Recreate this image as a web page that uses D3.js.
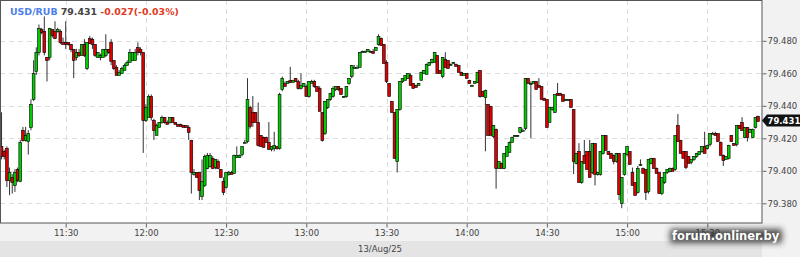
<!DOCTYPE html>
<html><head><meta charset="utf-8">
<script src="https://cdn.jsdelivr.net/npm/d3@7"></script>
<style>body{margin:0;background:#f2f2f2;overflow:hidden} svg{display:block}</style>
</head><body>
<svg id="c" width="800" height="257"></svg>
<script>
const symbol = "USD/RUB", lastPrice = "79.431", change = "-0.027(-0.03%)";
const dateLabel = "13/Aug/25";
const watermark = "forum.onliner.by";
const startTime = "2025-08-13T11:06:00";
const yTicks = [79.38, 79.40, 79.42, 79.44, 79.46, 79.48];
const xTicks = ["11:30", "12:00", "12:30", "13:00", "13:30", "14:00", "14:30", "15:00", "15:30"];

const opens = [
79.415,79.412,79.414,79.394,79.396,79.391,79.401,79.394,79.425,79.419,
79.418,79.427,79.444,79.461,79.473,79.487,79.486,79.470,79.470,79.487,
79.486,79.486,79.486,79.479,79.479,79.479,79.478,79.475,79.470,79.473,
79.471,79.478,79.463,79.482,79.481,79.478,79.470,79.470,79.470,79.471,
79.475,79.479,79.468,79.464,79.459,79.460,79.462,79.465,79.467,79.468,
79.468,79.476,79.475,79.473,79.431,79.433,79.446,79.431,79.422,79.427,
79.430,79.433,79.430,79.430,79.433,79.430,79.429,79.429,79.428,79.428,
79.427,79.419,79.398,79.399,79.399,79.385,79.391,79.402,79.403,79.408,
79.402,79.406,79.401,79.394,79.390,79.398,79.399,79.399,79.409,79.409,
79.410,79.418,79.418,79.439,79.436,79.436,79.430,79.422,79.421,79.421,
79.418,79.413,79.414,79.415,79.414,79.450,79.454,79.454,79.456,79.455,
79.457,79.455,79.451,79.452,79.452,79.446,79.454,79.455,79.452,79.451,
79.436,79.423,79.439,79.444,79.446,79.450,79.452,79.451,79.446,79.446,
79.454,79.458,79.464,79.464,79.464,79.474,79.474,79.474,79.474,79.474,
79.474,79.478,79.482,79.478,79.467,79.454,79.443,79.436,79.406,79.438,
79.455,79.456,79.457,79.459,79.454,79.453,79.453,79.456,79.460,79.460,
79.465,79.467,79.467,79.471,79.462,79.458,79.469,79.468,79.466,79.467,
79.466,79.465,79.461,79.459,79.460,79.456,79.453,79.454,79.455,79.462,
79.449,79.446,79.441,79.440,79.421,79.426,79.402,79.405,79.402,79.409,
79.412,79.418,79.422,79.422,79.424,79.425,79.426,79.457,79.454,79.454,
79.455,79.453,79.452,79.445,79.444,79.430,79.438,79.436,79.448,79.448,
79.447,79.444,79.444,79.444,79.438,79.405,79.412,79.393,79.410,79.412,
79.412,79.399,79.417,79.398,79.398,79.411,79.422,79.412,79.411,79.410,
79.406,79.411,79.380,79.398,79.410,79.412,79.399,79.393,79.387,79.404,
79.402,79.401,79.387,79.405,79.408,79.402,79.399,79.386,79.393,
79.399,79.400,79.402,79.401,79.428,79.419,79.412,79.412,79.409,79.405,
79.407,79.409,79.410,79.412,79.415,79.414,79.416,79.423,79.423,
79.423,79.418,79.410,79.407,79.408,79.422,79.417,79.416,79.428,79.430,
79.421,79.427,79.424,79.421,79.427,79.434];
const highs = [
79.436,79.413,79.415,79.402,79.398,79.401,79.402,79.419,79.427,79.427,
79.425,79.444,79.468,79.476,79.490,79.488,79.495,79.470,79.488,79.487,
79.492,79.488,79.487,79.482,79.492,79.479,79.478,79.475,79.475,79.475,
79.478,79.481,79.479,79.483,79.482,79.478,79.473,79.472,79.475,79.484,
79.475,79.481,79.468,79.465,79.462,79.464,79.466,79.468,79.475,79.473,
79.475,79.479,79.476,79.473,79.441,79.447,79.447,79.432,79.429,79.430,
79.434,79.433,79.431,79.433,79.433,79.430,79.429,79.429,79.428,79.428,
79.428,79.419,79.401,79.399,79.399,79.407,79.410,79.411,79.411,79.409,
79.407,79.407,79.401,79.396,79.399,79.400,79.400,79.410,79.415,79.410,
79.415,79.419,79.457,79.440,79.446,79.436,79.442,79.422,79.421,79.421,
79.430,79.415,79.424,79.415,79.448,79.458,79.455,79.455,79.464,79.456,
79.457,79.456,79.460,79.454,79.453,79.455,79.456,79.456,79.452,79.452,
79.436,79.443,79.444,79.448,79.452,79.452,79.452,79.451,79.446,79.452,
79.457,79.465,79.465,79.465,79.473,79.474,79.474,79.475,79.474,79.475,
79.476,79.484,79.482,79.478,79.468,79.454,79.443,79.436,79.438,79.455,
79.457,79.459,79.460,79.460,79.454,79.453,79.454,79.461,79.462,79.466,
79.467,79.469,79.473,79.471,79.462,79.470,79.473,79.468,79.466,79.467,
79.466,79.465,79.461,79.460,79.460,79.456,79.453,79.455,79.461,79.462,
79.449,79.450,79.441,79.440,79.428,79.426,79.406,79.405,79.411,79.415,
79.418,79.421,79.422,79.422,79.427,79.426,79.457,79.457,79.455,79.455,
79.455,79.457,79.452,79.445,79.444,79.439,79.439,79.447,79.454,79.448,
79.447,79.444,79.444,79.444,79.438,79.411,79.417,79.406,79.419,79.412,
79.419,79.417,79.417,79.399,79.412,79.422,79.422,79.412,79.411,79.410,
79.411,79.411,79.396,79.411,79.415,79.412,79.402,79.393,79.403,79.407,
79.402,79.401,79.407,79.408,79.408,79.402,79.399,79.396,79.399,
79.401,79.402,79.402,79.422,79.435,79.419,79.412,79.412,79.409,79.407,
79.409,79.411,79.412,79.415,79.424,79.416,79.423,79.424,79.424,
79.423,79.418,79.410,79.409,79.416,79.422,79.417,79.428,79.428,79.433,
79.427,79.427,79.426,79.426,79.433,79.434];
const lows = [
79.407,79.407,79.390,79.385,79.386,79.387,79.393,79.393,79.418,79.418,
79.410,79.425,79.443,79.459,79.471,79.484,79.471,79.455,79.468,79.482,
79.481,79.485,79.478,79.478,79.475,79.477,79.473,79.457,79.468,79.470,
79.471,79.470,79.462,79.478,79.475,79.470,79.470,79.468,79.470,79.470,
79.472,79.465,79.462,79.459,79.459,79.460,79.462,79.465,79.467,79.468,
79.468,79.471,79.471,79.411,79.430,79.433,79.431,79.419,79.422,79.427,
79.429,79.429,79.429,79.429,79.430,79.429,79.428,79.428,79.427,79.427,
79.419,79.386,79.397,79.396,79.382,79.382,79.390,79.401,79.402,79.401,
79.401,79.401,79.396,79.385,79.389,79.397,79.398,79.398,79.408,79.408,
79.409,79.417,79.417,79.426,79.427,79.430,79.415,79.415,79.415,79.418,
79.413,79.412,79.412,79.413,79.413,79.449,79.452,79.454,79.454,79.455,
79.455,79.450,79.450,79.452,79.446,79.445,79.454,79.451,79.449,79.437,
79.418,79.422,79.438,79.443,79.445,79.449,79.449,79.447,79.445,79.445,
79.453,79.457,79.464,79.464,79.464,79.473,79.473,79.474,79.473,79.473,
79.474,79.477,79.477,79.466,79.454,79.446,79.436,79.408,79.399,79.437,
79.454,79.456,79.457,79.453,79.451,79.452,79.453,79.456,79.460,79.460,
79.465,79.466,79.467,79.460,79.460,79.457,79.464,79.463,79.465,79.466,
79.465,79.461,79.459,79.459,79.457,79.454,79.452,79.454,79.454,79.445,
79.446,79.412,79.422,79.422,79.420,79.389,79.402,79.402,79.401,79.409,
79.412,79.418,79.421,79.421,79.423,79.425,79.425,79.454,79.420,79.454,
79.450,79.452,79.444,79.444,79.427,79.430,79.437,79.436,79.447,79.447,
79.443,79.443,79.443,79.439,79.398,79.404,79.393,79.392,79.405,79.401,
79.396,79.398,79.391,79.397,79.397,79.410,79.413,79.410,79.408,79.404,
79.405,79.382,79.377,79.397,79.409,79.404,79.391,79.385,79.386,79.403,
79.399,79.382,79.386,79.404,79.402,79.399,79.386,79.385,79.392,
79.398,79.399,79.400,79.400,79.418,79.411,79.408,79.401,79.405,79.404,
79.406,79.408,79.410,79.411,79.411,79.413,79.415,79.423,79.422,
79.418,79.410,79.403,79.407,79.407,79.418,79.416,79.415,79.426,79.425,
79.420,79.418,79.424,79.420,79.426,79.431];
const closes = [
79.409,79.409,79.394,79.399,79.393,79.399,79.394,79.418,79.419,79.422,
79.423,79.441,79.460,79.473,79.488,79.485,79.473,79.468,79.488,79.483,
79.482,79.487,79.479,79.478,79.478,79.478,79.475,79.468,79.473,79.471,
79.478,79.471,79.479,79.479,79.478,79.471,79.473,79.471,79.475,79.475,
79.473,79.467,79.463,79.459,79.461,79.463,79.465,79.467,79.473,79.473,
79.473,79.473,79.473,79.431,79.439,79.446,79.433,79.425,79.428,79.430,
79.433,79.430,79.429,79.433,79.430,79.429,79.428,79.428,79.427,79.427,
79.424,79.399,79.399,79.396,79.388,79.394,79.409,79.410,79.410,79.402,
79.407,79.402,79.396,79.387,79.399,79.399,79.398,79.410,79.410,79.410,
79.415,79.418,79.444,79.427,79.430,79.430,79.416,79.415,79.415,79.418,
79.414,79.415,79.416,79.414,79.447,79.457,79.452,79.455,79.455,79.456,
79.455,79.451,79.453,79.454,79.446,79.455,79.455,79.452,79.449,79.437,
79.419,79.443,79.444,79.448,79.451,79.452,79.450,79.447,79.446,79.452,
79.457,79.465,79.464,79.464,79.473,79.474,79.474,79.475,79.474,79.473,
79.476,79.483,79.478,79.466,79.455,79.446,79.436,79.408,79.438,79.455,
79.457,79.459,79.460,79.453,79.451,79.452,79.454,79.461,79.462,79.466,
79.467,79.469,79.473,79.460,79.460,79.470,79.464,79.463,79.466,79.467,
79.465,79.461,79.459,79.460,79.457,79.454,79.453,79.455,79.461,79.446,
79.446,79.450,79.422,79.422,79.428,79.402,79.406,79.402,79.411,79.415,
79.418,79.421,79.422,79.422,79.427,79.425,79.457,79.454,79.454,79.455,
79.450,79.452,79.444,79.444,79.427,79.439,79.439,79.447,79.447,79.447,
79.443,79.444,79.444,79.439,79.406,79.411,79.393,79.406,79.405,79.401,
79.396,79.417,79.398,79.399,79.412,79.422,79.413,79.410,79.408,79.406,
79.411,79.386,79.396,79.411,79.415,79.404,79.391,79.385,79.402,79.404,
79.399,79.387,79.407,79.408,79.402,79.399,79.386,79.396,79.399,
79.401,79.402,79.400,79.422,79.418,79.411,79.408,79.402,79.405,79.407,
79.409,79.411,79.412,79.415,79.411,79.416,79.423,79.423,79.422,
79.418,79.410,79.407,79.409,79.416,79.418,79.416,79.428,79.426,79.425,
79.427,79.421,79.426,79.426,79.433,79.431];

const W = 762, H = 223;
const svg = d3.select("#c");
const start = new Date(startTime);
const candles = opens.map((o, i) => ({
  t: d3.timeMinute.offset(start, i), o, h: highs[i], l: lows[i], c: closes[i]
}));
const parseHM = s => { const [hh, mm] = s.split(":").map(Number); const d = new Date(start); d.setHours(hh, mm, 0, 0); return d; };

const x = d3.scaleTime().domain([parseHM("11:30"), parseHM("15:30")]).range([65.7, 707.3]);
const y = d3.scaleLinear().domain([79.38, 79.48]).range([203.3, 40.8]);

// backgrounds
svg.append("rect").attr("width", 800).attr("height", 257).attr("fill", "#f2f2f2");
svg.append("rect").attr("x", 0).attr("y", 241).attr("width", W).attr("height", 16).attr("fill", "#e4e4e4");
svg.append("rect").attr("x", 0).attr("y", 0).attr("width", W).attr("height", H).attr("fill", "#fff");

// grid
const grid = svg.append("g").attr("stroke", "#dcdcdc").attr("stroke-dasharray", "5,4").attr("shape-rendering", "crispEdges");
grid.selectAll(".hg").data(yTicks).join("line")
  .attr("x1", 0).attr("x2", W).attr("y1", d => Math.round(y(d)) + 0.5).attr("y2", d => Math.round(y(d)) + 0.5);
grid.selectAll(".vg").data(xTicks).join("line")
  .attr("x1", d => Math.round(x(parseHM(d))) + 0.5).attr("x2", d => Math.round(x(parseHM(d))) + 0.5)
  .attr("y1", 0).attr("y2", H);

// candles
svg.append("clipPath").attr("id", "clip").append("rect").attr("width", W).attr("height", H);
const cg = svg.append("g").attr("clip-path", "url(#clip)");
cg.selectAll(".wick").data(candles).join("line")
  .attr("x1", d => x(d.t)).attr("x2", d => x(d.t))
  .attr("y1", d => y(d.h)).attr("y2", d => y(d.l))
  .attr("stroke", "#333").attr("stroke-width", 1);
cg.selectAll(".body").data(candles).join("rect")
  .attr("x", d => x(d.t) - 1.4)
  .attr("y", d => Math.round(y(Math.max(d.o, d.c))) + 0.5)
  .attr("width", 2.8)
  .attr("height", d => Math.max(1, Math.round(Math.abs(y(d.o) - y(d.c)))))
  .attr("fill", d => d.c >= d.o ? "#00cc00" : "#dd0000")
  .attr("stroke", "#000").attr("stroke-width", 0.6);

// frame
svg.append("rect").attr("x", 0.5).attr("y", 0.5).attr("width", W - 0.5).attr("height", H - 0.5)
  .attr("fill", "none").attr("stroke", "#555");

// axes
const font = "DejaVu Sans, sans-serif";
const yAxis = svg.append("g").attr("transform", `translate(${W + 0.5},0)`)
  .call(d3.axisRight(y).tickValues(yTicks).tickFormat(d3.format(".3f")).tickSize(4).tickPadding(1));
const xAxis = svg.append("g").attr("transform", `translate(0,${H + 0.5})`)
  .call(d3.axisBottom(x).tickValues(xTicks.map(parseHM)).tickFormat(d3.timeFormat("%H:%M")).tickSize(4).tickPadding(2));
[yAxis, xAxis].forEach(a => {
  a.select(".domain").remove();
  a.selectAll("line").attr("stroke", "#666");
  a.selectAll("text").attr("fill", "#444").style("font-family", font).style("font-size", "8.5px");
});

svg.append("text").attr("x", 358).attr("y", 252).text(dateLabel)
  .attr("fill", "#444").style("font-family", font).style("font-size", "8.5px");

// current price label
const py = Math.round(y(+lastPrice)) + 0.5;
svg.append("path").attr("d", `M${W},${py} L${W + 5},${py - 6} L800,${py - 6} L800,${py + 6} L${W + 5},${py + 6} Z`)
  .attr("fill", "#111");
svg.append("text").attr("x", W + 5.5).attr("y", py + 3.2).text(lastPrice)
  .attr("fill", "#fff").style("font-family", font).style("font-size", "8.5px").style("font-weight", "bold");

// title
const title = svg.append("text").attr("x", 10).attr("y", 15)
  .style("font-family", font).style("font-size", "9.4px").style("font-weight", "bold");
title.append("tspan").text(symbol).attr("fill", "#4d7fe8");
title.append("tspan").text(" " + lastPrice).attr("fill", "#444");
title.append("tspan").text(" " + change).attr("fill", "#e03a1e");

// watermark
const defs = svg.append("defs");
defs.append("filter").attr("id", "blur").attr("x", "-20%").attr("y", "-60%").attr("width", "140%").attr("height", "220%")
  .append("feGaussianBlur").attr("stdDeviation", 3);
svg.append("rect").attr("x", 670).attr("y", 229).attr("width", 112).attr("height", 14)
  .attr("fill", "#333").attr("opacity", 0.85).attr("filter", "url(#blur)");
svg.append("text").attr("x", 672).attr("y", 240).text(watermark)
  .attr("fill", "#fff").style("font-family", font).style("font-size", "11.5px").style("font-weight", "bold");
</script>
</body></html>
